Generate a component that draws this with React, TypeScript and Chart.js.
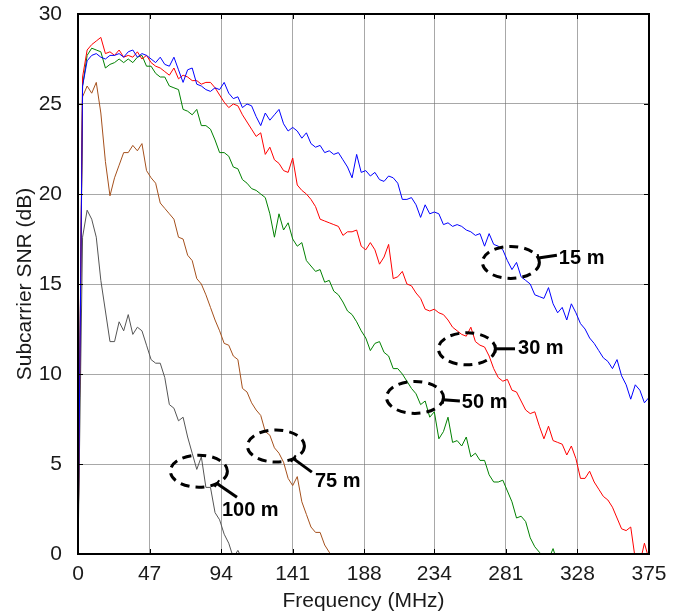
import React, { useEffect, useRef } from 'react';
import { Chart, registerables } from 'chart.js';

Chart.register(...registerables);

// Frequency sampling grid (MHz)
const freq = [
  0, 3, 6, 9, 12, 15, 18, 21, 24, 27, 30, 33, 36, 39, 42, 45, 48, 51, 54, 57,
  60, 63, 66, 69, 72, 75, 78, 81, 84, 87, 90, 93, 96, 99, 102, 105, 108, 111, 114, 117,
  120, 123, 126, 129, 132, 135, 138, 141, 144, 147, 150, 153, 156, 159, 162, 165, 168, 171, 174, 177,
  180, 183, 186, 189, 192, 195, 198, 201, 204, 207, 210, 213, 216, 219, 222, 225, 228, 231, 234, 237,
  240, 243, 246, 249, 252, 255, 258, 261, 264, 267, 270, 273, 276, 279, 282, 285, 288, 291, 294, 297,
  300, 303, 306, 309, 312, 315, 318, 321, 324, 327, 330, 333, 336, 339, 342, 345, 348, 351, 354, 357,
  360, 363, 366, 369, 372, 375,
];

// Subcarrier SNR (dB) per distance
const snr15m = [
  0, 26.0, 27.4, 27.7, 27.8, 27.6, 27.5, 27.7, 27.7, 27.8, 27.6, 27.9, 28.0, 27.6, 27.8, 27.7, 27.5, 27.3, 27.6, 27.2,
  27.1, 27.6, 26.9, 26.2, 26.9, 27.0, 26.1, 26.0, 25.8, 25.7, 25.9, 25.8, 26.2, 25.6, 25.3, 25.4, 24.8, 25.0, 24.9, 24.3,
  23.8, 24.5, 24.1, 24.4, 24.7, 23.9, 23.5, 23.7, 23.5, 23.1, 23.4, 22.8, 22.6, 22.7, 22.3, 22.4, 22.2, 22.3, 21.9, 21.5,
  20.9, 22.2, 21.2, 21.3, 21.0, 21.2, 20.8, 20.7, 21.0, 20.9, 20.6, 19.7, 19.7, 19.8, 19.4, 18.7, 19.4, 18.9, 19.0, 18.9,
  18.3, 18.4, 18.2, 18.3, 18.2, 18.0, 17.9, 17.7, 17.8, 17.1, 17.8, 17.2, 17.1, 16.9, 16.3, 15.8, 16.2, 15.4, 15.2, 15.0,
  14.4, 14.3, 14.2, 14.8, 13.9, 13.4, 13.7, 13.0, 13.9, 13.4, 12.8, 12.5, 12.0, 11.7, 11.3, 10.9, 10.7, 10.3, 10.8, 9.9,
  9.4, 8.6, 9.4, 9.1, 8.4, 8.7,
];
const snr30m = [
  0, 26.5, 28.0, 28.3, 28.5, 28.7, 27.8, 27.9, 27.7, 28.0, 27.6, 27.7, 27.6, 27.9, 27.5, 27.7, 27.3, 27.1, 27.0, 26.8,
  26.6, 27.0, 26.4, 26.6, 26.5, 26.3, 26.3, 26.1, 26.2, 26.2, 25.9, 25.5, 25.1, 24.8, 25.0, 24.9, 24.4, 24.0, 23.6, 23.2,
  23.4, 22.2, 22.6, 21.9, 21.7, 21.3, 21.2, 22.0, 20.5, 20.2, 20.0, 19.7, 19.3, 18.6, 18.5, 18.4, 18.3, 18.2, 17.7, 17.9,
  17.9, 18.0, 17.1, 16.9, 17.3, 16.9, 16.1, 16.5, 17.2, 15.3, 15.4, 15.7, 15.0, 14.9, 14.5, 14.2, 13.6, 13.5, 13.6, 13.4,
  13.3, 13.0, 12.6, 12.4, 12.2, 12.1, 12.6, 11.8, 11.6, 11.5, 11.0, 10.3, 9.8, 9.6, 9.7, 9.1, 9.0, 8.5, 8.0, 7.8,
  7.9, 7.1, 6.4, 7.1, 6.3, 6.2, 6.1, 5.5, 6.0, 5.3, 4.2, 4.2, 4.6, 4.0, 3.6, 3.2, 3.0, 2.6, 2.0, 1.4,
  1.3, 1.5, -0.3, -0.5, 0.6, -0.3,
];
const snr50m = [
  0, 26.0, 27.7, 28.1, 28.0, 27.9, 27.0, 27.2, 27.3, 27.5, 27.3, 27.5, 27.3, 27.6, 27.7, 27.1, 27.1, 26.7, 26.5, 26.5,
  26.0, 25.9, 25.8, 24.7, 24.6, 24.4, 24.7, 23.8, 23.8, 23.6, 23.0, 22.3, 22.3, 22.1, 21.5, 21.4, 20.8, 20.6, 20.3, 20.2,
  20.0, 19.8, 18.9, 17.6, 18.9, 18.0, 18.4, 17.5, 17.1, 17.3, 16.3, 16.0, 15.7, 15.8, 15.1, 15.2, 14.6, 14.4, 14.0, 13.5,
  13.3, 12.9, 12.4, 12.0, 11.3, 11.7, 11.8, 11.2, 11.0, 10.3, 10.3, 10.0, 9.6, 9.2, 8.9, 8.3, 8.5, 7.6, 7.9, 6.4,
  6.8, 7.6, 6.2, 6.3, 6.0, 6.5, 5.4, 5.6, 5.2, 5.2, 4.4, 4.0, 4.0, 4.1, 3.5, 2.9, 2.0, 2.1, 1.8, 0.9,
  0.4, 0.1, -0.2, -0.3, 0.3, -0.5,
];
const snr75m = [
  0, 25.4, 26.0, 25.6, 26.2, 24.5, 21.8, 19.9, 20.9, 21.6, 22.3, 22.3, 22.7, 22.4, 22.8, 21.3, 20.9, 20.6, 19.5, 19.2,
  18.9, 18.6, 17.6, 17.5, 16.6, 16.3, 15.3, 15.0, 14.4, 13.7, 13.0, 12.4, 11.7, 11.6, 11.0, 10.8, 9.2, 9.0, 8.4, 8.0,
  7.7, 6.8, 6.6, 5.9, 5.6, 5.1, 4.2, 3.8, 4.3, 2.9, 2.2, 1.5, 1.2, 1.2, 0.5, 0.1, -0.3,
];
const snr100m = [
  0, 17.6, 19.1, 18.6, 17.6, 15.2, 13.5, 11.8, 11.8, 12.9, 12.4, 13.3, 12.2, 12.6, 12.4, 11.6, 10.8, 10.6, 10.6, 9.8,
  8.3, 8.1, 7.4, 7.6, 6.5, 5.6, 4.7, 5.4, 3.7, 3.7, 2.3, 1.9, 1.1, 0.6, -0.2, 0.2, -0.3,
];

const seriesNames = ['15 m', '30 m', '50 m', '75 m', '100 m'];
const seriesValues = [snr15m, snr30m, snr50m, snr75m, snr100m];
const seriesColors = ['#0000FF', '#FF0000', '#008000', '#A5501C', '#555555'];

const xTickValues = [0, 47, 94, 141, 188, 234, 281, 328, 375];
const yTickValues = [0, 5, 10, 15, 20, 25, 30];

// Callout annotations (data coordinates)
const calloutLabels = ['15 m', '30 m', '50 m', '75 m', '100 m'];
const calloutCenterX = [284.3, 255.4, 221.3, 130.0, 79.4];
const calloutCenterY = [16.2, 11.4, 8.7, 6.0, 4.6];
const calloutEndX = [314.5, 287.0, 250.8, 153.6, 104.4];
const calloutEndY = [16.6, 11.4, 8.5, 4.55, 3.15];
const calloutTextX = [315.8, 289.0, 252.1, 155.6, 94.5];
const calloutTextY = [16.4, 11.4, 8.4, 4.05, 2.4];

const FONT = "Arial, 'Liberation Sans', Helvetica, sans-serif";

const overlayPlugin = {
  id: 'overlay',
  afterDatasetsDraw(chart: any) {
    const { ctx, chartArea: a, scales } = chart;
    const x = scales.x;
    const y = scales.y;
    ctx.save();
    ctx.strokeStyle = '#000';
    ctx.lineWidth = 1;
    ctx.setLineDash([]);
    xTickValues.forEach((v) => {
      const px = Math.round(x.getPixelForValue(v)) + 0.5;
      ctx.beginPath();
      ctx.moveTo(px, a.bottom);
      ctx.lineTo(px, a.bottom - 5);
      ctx.moveTo(px, a.top);
      ctx.lineTo(px, a.top + 5);
      ctx.stroke();
    });
    yTickValues.forEach((v) => {
      const py = Math.round(y.getPixelForValue(v)) + 0.5;
      ctx.beginPath();
      ctx.moveTo(a.left, py);
      ctx.lineTo(a.left + 5, py);
      ctx.moveTo(a.right, py);
      ctx.lineTo(a.right - 5, py);
      ctx.stroke();
    });
    ctx.lineWidth = 2;
    ctx.strokeRect(a.left, a.top, a.right - a.left, a.bottom - a.top);

    const rx = 28.5;
    const ry = 16;
    calloutLabels.forEach((label, i) => {
      const cx = x.getPixelForValue(calloutCenterX[i]);
      const cy = y.getPixelForValue(calloutCenterY[i]);
      const ex = x.getPixelForValue(calloutEndX[i]);
      const ey = y.getPixelForValue(calloutEndY[i]);
      ctx.lineWidth = 3;
      ctx.setLineDash([9, 6]);
      ctx.beginPath();
      ctx.ellipse(cx, cy, rx, ry, 0, 0, Math.PI * 2);
      ctx.stroke();
      ctx.setLineDash([]);
      const dx = ex - cx;
      const dy = ey - cy;
      const k = 1 / Math.sqrt((dx / rx) ** 2 + (dy / ry) ** 2);
      const sx = cx + k * dx;
      const sy = cy + k * dy;
      ctx.beginPath();
      ctx.moveTo(sx, sy);
      ctx.lineTo(ex, ey);
      ctx.stroke();
      const len = Math.hypot(dx, dy);
      const nx = -dy / len;
      const ny = dx / len;
      ctx.lineWidth = 2;
      ctx.beginPath();
      ctx.moveTo(sx + nx * 4, sy + ny * 4);
      ctx.lineTo(sx - nx * 4, sy - ny * 4);
      ctx.stroke();
      ctx.fillStyle = '#000';
      ctx.font = `bold 20px ${FONT}`;
      ctx.textAlign = 'left';
      ctx.textBaseline = 'middle';
      ctx.fillText(label, x.getPixelForValue(calloutTextX[i]), y.getPixelForValue(calloutTextY[i]));
    });
    ctx.restore();
  },
};

export default function App() {
  const canvasRef = useRef<HTMLCanvasElement | null>(null);

  useEffect(() => {
    if (!canvasRef.current) return;
    const datasets = seriesValues.map((vals, i) => ({
      label: seriesNames[i],
      data: vals.map((v, j) => ({ x: freq[j], y: v })),
      borderColor: seriesColors[i],
      backgroundColor: seriesColors[i],
      borderWidth: 1,
      pointRadius: 0,
      tension: 0,
      fill: false,
      clip: 0,
    }));
    const chart = new Chart(canvasRef.current, {
      type: 'line',
      data: { datasets },
      options: {
        animation: false,
        responsive: false,
        devicePixelRatio: 1,
        layout: { padding: { left: 0, top: 14, right: 42, bottom: 0 } },
        plugins: {
          legend: { display: false },
          tooltip: { enabled: false },
        },
        scales: {
          x: {
            type: 'linear',
            min: 0,
            max: 375,
            afterBuildTicks: (s: any) => {
              s.ticks = xTickValues.map((v) => ({ value: v }));
            },
            afterFit: (s: any) => {
              s.height = 60;
              s.paddingLeft = 0;
              s.paddingRight = 0;
            },
            grid: { color: 'rgba(110,110,110,0.6)', lineWidth: 1, drawTicks: false },
            border: { display: false },
            ticks: {
              autoSkip: false,
              maxRotation: 0,
              padding: 8,
              color: '#1a1a1a',
              font: { family: FONT, size: 21 },
              callback: (v: any) => String(v),
            },
            title: {
              display: true,
              text: 'Frequency (MHz)',
              color: '#1a1a1a',
              font: { family: FONT, size: 21 },
              padding: { top: 0, bottom: 0 },
            },
          },
          y: {
            type: 'linear',
            min: 0,
            max: 30,
            afterBuildTicks: (s: any) => {
              s.ticks = yTickValues.map((v) => ({ value: v }));
            },
            afterFit: (s: any) => {
              s.width = 78;
              s.paddingTop = 0;
              s.paddingBottom = 0;
            },
            grid: { color: 'rgba(110,110,110,0.6)', lineWidth: 1, drawTicks: false },
            border: { display: false },
            ticks: {
              padding: 16,
              color: '#1a1a1a',
              font: { family: FONT, size: 21 },
              callback: (v: any) => String(v),
            },
            title: {
              display: true,
              text: 'Subcarrier SNR (dB)',
              color: '#1a1a1a',
              font: { family: FONT, size: 21 },
              padding: { top: 13, bottom: 0 },
            },
          },
        },
      },
      plugins: [overlayPlugin],
    });
    return () => chart.destroy();
  }, []);

  return (
    <div style={{ position: 'absolute', left: 0, top: 0, width: 691, height: 614, background: '#fff' }}>
      <canvas ref={canvasRef} width={691} height={614} style={{ width: 691, height: 614, display: 'block' }} />
    </div>
  );
}
